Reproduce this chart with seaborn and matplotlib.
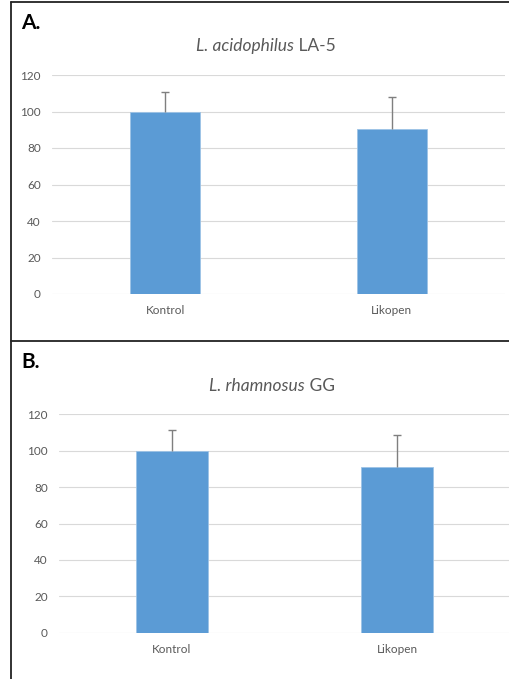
import matplotlib
matplotlib.use("Agg")
import matplotlib.pyplot as plt
import seaborn as sns
import pandas as pd
from matplotlib.lines import Line2D

groups = ["Kontrol", "Likopen"]

# panel A: L. acidophilus LA-5
a_means = [100, 90.2]
a_err = [10.8, 18.0]

# panel B: L. rhamnosus GG
b_means = [100, 91.2]
b_err = [11.4, 17.2]

yticks = [0, 20, 40, 60, 80, 100, 120]

BAR = "#5B9BD5"
TXT = "#595959"
GRID = "#d9d9d9"

sns.set_theme(style="white")
plt.rcParams['font.family'] = ['Lato', 'DejaVu Sans']

W, H = 510, 679
fig = plt.figure(figsize=(W / 100, H / 100), dpi=100)


def px_axes(x0, x1, ytop, ybot):
    return fig.add_axes([x0 / W, 1 - ybot / H, (x1 - x0) / W, (ybot - ytop) / H])


def draw_panel(ax, means, err, width):
    df = pd.DataFrame({"group": groups, "value": means})
    sns.barplot(data=df, x="group", y="value", color=BAR, width=width,
                saturation=1, errorbar=None, ax=ax, zorder=2,
                edgecolor="#9dc3e6", linewidth=0.6)
    # only the upper half of the error bar, like Excel "plus" bars
    eb = ax.errorbar(range(len(groups)), means, yerr=[[0] * len(err), err],
                     fmt="none", ecolor="#7f7f7f", elinewidth=1.0, capsize=3,
                     capthick=1.0, zorder=3)
    eb[1][0].set_visible(False)
    ax.set_ylim(0, 120)
    ax.set_xlim(-0.5, 1.5)
    ax.set_yticks(yticks)
    ax.yaxis.grid(True, color=GRID, linewidth=0.8, zorder=0)
    ax.set_axisbelow(True)
    for s in ax.spines.values():
        s.set_visible(False)
    ax.tick_params(axis="both", length=0, labelsize=8.5, colors=TXT)
    ax.tick_params(axis="y", pad=8)
    ax.tick_params(axis="x", pad=8)
    ax.set_xlabel("")
    ax.set_ylabel("")


def mixed_title(x_center, y_px, italic, regular):
    r = fig.canvas.get_renderer()
    y = 1 - y_px / H
    t1 = fig.text(0, y, italic, style="italic", fontsize=12.5, color=TXT,
                  va="center", ha="left")
    t2 = fig.text(0, y, " " + regular, fontsize=12.5, color=TXT,
                  va="center", ha="left")
    w1 = t1.get_window_extent(r).width
    w2 = t2.get_window_extent(r).width
    start = x_center - (w1 + w2) / 2
    t1.set_x(start / W)
    t2.set_x((start + w1) / W)


ax_a = px_axes(52, 505, 75, 294)
draw_panel(ax_a, a_means, a_err, 0.31)
ax_b = px_axes(59, 510, 414.3, 632.7)
draw_panel(ax_b, b_means, b_err, 0.32)

# panel frames
fig.add_artist(Line2D([11.5 / W, 11.5 / W], [1 - 1.5 / H, 0], color="#222222", lw=1.3))
fig.add_artist(Line2D([11.5 / W, 1], [1 - 1.5 / H, 1 - 1.5 / H], color="#222222", lw=1.3))
fig.add_artist(Line2D([11.5 / W, 1], [1 - 341 / H, 1 - 341 / H], color="#222222", lw=1.3))

fig.text(21 / W, 1 - 23 / H, "A.", fontsize=15, fontweight="bold", color="black",
         va="center", ha="left")
fig.text(21 / W, 1 - 362 / H, "B.", fontsize=15, fontweight="bold", color="black",
         va="center", ha="left")

mixed_title(266, 46, "L. acidophilus", "LA-5")
mixed_title(272, 386, "L. rhamnosus", "GG")

fig.savefig("out.png", dpi=100)
